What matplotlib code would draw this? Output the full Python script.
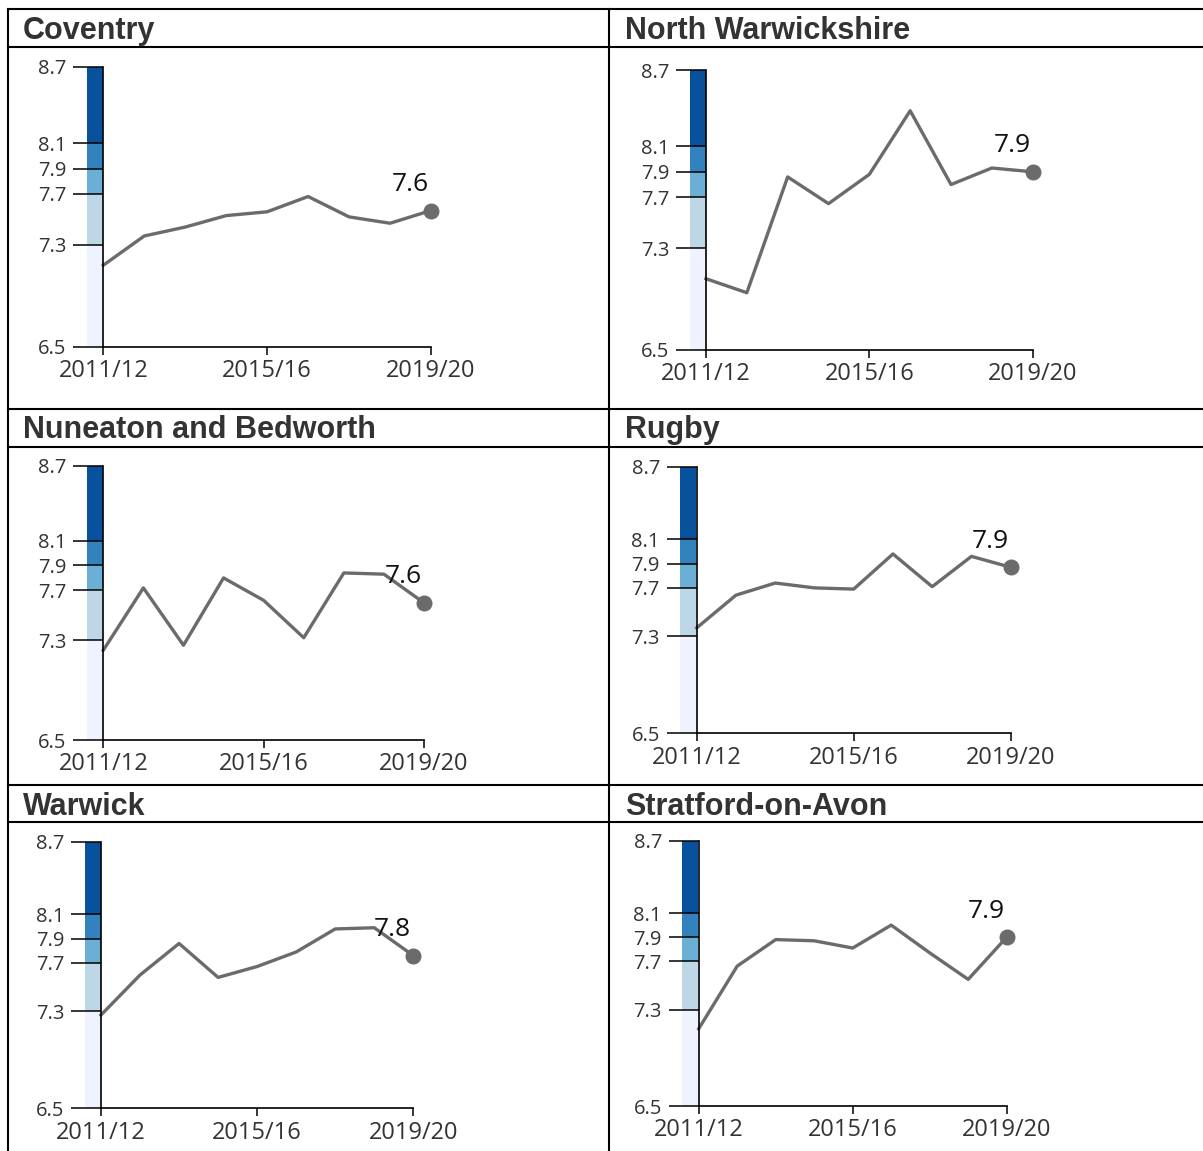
import matplotlib
matplotlib.use("Agg")
import matplotlib.pyplot as plt
from matplotlib.lines import Line2D

W, H = 1203, 1151

periods = ["2011/12", "2012/13", "2013/14", "2014/15", "2015/16",
           "2016/17", "2017/18", "2018/19", "2019/20"]
tick_idx = [0, 4, 8]

areas = ["Coventry", "North Warwickshire", "Nuneaton and Bedworth",
         "Rugby", "Warwick", "Stratford-on-Avon"]

coventry = [7.14, 7.37, 7.44, 7.53, 7.56, 7.68, 7.52, 7.47, 7.57]
north_warwickshire = [7.06, 6.95, 7.86, 7.65, 7.88, 8.38, 7.80, 7.93, 7.90]
nuneaton = [7.22, 7.72, 7.26, 7.80, 7.62, 7.32, 7.84, 7.83, 7.60]
rugby = [7.37, 7.64, 7.74, 7.70, 7.69, 7.98, 7.71, 7.96, 7.87]
warwick = [7.27, 7.60, 7.86, 7.58, 7.67, 7.79, 7.98, 7.99, 7.76]
stratford = [7.14, 7.66, 7.88, 7.87, 7.81, 8.00, 7.77, 7.55, 7.90]

series = [coventry, north_warwickshire, nuneaton, rugby, warwick, stratford]

band_edges = [6.5, 7.3, 7.7, 7.9, 8.1, 8.7]
band_colors = ["#eff3ff", "#bdd7e7", "#6baed6", "#3182bd", "#08519c"]

# pixel boxes of each chart: x of first point, x of last point, y of 8.7, y of 6.5
boxes = [
    (103.3, 431.0, 66.7, 346.7),
    (706.0, 1032.7, 70.0, 350.0),
    (103.3, 424.0, 465.7, 740.0),
    (696.7, 1010.7, 466.7, 733.3),
    (101.0, 413.3, 841.7, 1108.3),
    (698.7, 1006.7, 840.7, 1106.0),
]
title_pos = [(23, 39), (625, 39), (23, 438), (625, 438), (23, 815), (625, 815)]


def fx(x):
    return x / W


def fy(y):
    return 1 - y / H


fig = plt.figure(figsize=(W / 100, H / 100), dpi=100)
fig.patch.set_facecolor("white")

# table grid
for y in [8.5, 46.7, 408.7, 446.7, 785, 822.3]:
    fig.add_artist(Line2D([fx(8), 1], [fy(y), fy(y)], color="black", lw=1.5,
                          transform=fig.transFigure))
for x in [8, 609.3]:
    fig.add_artist(Line2D([fx(x), fx(x)], [fy(8.5), 0], color="black", lw=1.5,
                          transform=fig.transFigure))

for name, vals, box, tp in zip(areas, series, boxes, title_pos):
    x0, x8, ytop, ybot = box
    fig.text(fx(tp[0]), fy(tp[1]), name, fontsize=22, fontweight="bold",
             family="Liberation Sans", color="#333333", va="baseline", ha="left")

    # colour band to the left of the axis
    bax = fig.add_axes([fx(x0 - 16.5), fy(ybot), 16 / W, (ybot - ytop) / H])
    for i, c in enumerate(band_colors):
        bax.bar(0, band_edges[i + 1] - band_edges[i], bottom=band_edges[i],
                width=1, color=c, edgecolor="none")
    bax.set_xlim(-0.5, 0.5)
    bax.set_ylim(6.5, 8.7)
    bax.axis("off")

    ax = fig.add_axes([fx(x0), fy(ybot), (x8 - x0) / W, (ybot - ytop) / H])
    ax.patch.set_alpha(0)
    xs = list(range(len(periods)))
    ax.plot(xs, vals, color="#6b6b6b", lw=2.4, clip_on=False)
    ax.plot(xs[-1], vals[-1], "o", color="#6b6b6b", ms=10.5, clip_on=False)
    ax.annotate(f"{vals[-1]:.1f}", (xs[-1], vals[-1]), xytext=(-15, 14),
                textcoords="offset points", ha="center", va="baseline",
                fontsize=19, family="Open Sans", color="#111111")
    ax.set_xlim(0, 8)
    ax.set_ylim(6.5, 8.7)
    ax.set_yticks(band_edges)
    ax.set_yticklabels([f"{v:.1f}" for v in band_edges])
    ax.set_xticks(tick_idx)
    ax.set_xticklabels([periods[i] for i in tick_idx])
    ax.tick_params(axis="y", length=21.5, width=1.1, pad=5, labelsize=14.5,
                   labelcolor="#333333")
    ax.tick_params(axis="x", length=6, width=1.1, pad=3, labelsize=17,
                   labelcolor="#333333")
    for lab in ax.get_xticklabels() + ax.get_yticklabels():
        lab.set_family("Open Sans")
    ax.spines["top"].set_visible(False)
    ax.spines["right"].set_visible(False)
    ax.spines["left"].set_linewidth(1.2)
    ax.spines["bottom"].set_linewidth(1.2)

fig.savefig("out.png", dpi=100)
